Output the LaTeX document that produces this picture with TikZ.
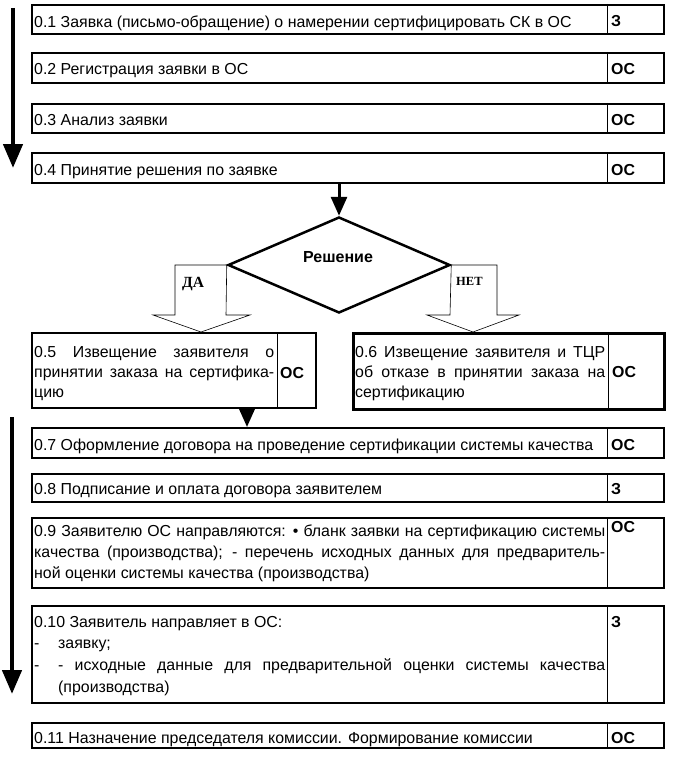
\documentclass[tikz,border=0pt]{standalone}
\usepackage{fontspec}
\setmainfont{Liberation Sans}
\newfontfamily\serifb{Liberation Serif}
\usetikzlibrary{arrows.meta,shapes.geometric}
\newcommand\msz{\fontsize{15.9}{20}\selectfont}
\begin{document}
\begin{tikzpicture}[x=1pt,y=-1pt,
  box/.style={draw, line width=2.4pt, inner sep=0, anchor=north west},
  divl/.style={line width=0.9pt},
  txt/.style={inner sep=0, anchor=base west, font=\msz},
  ptxt/.style={inner sep=0, anchor=north west, font=\msz, align=left},
  lbl/.style={inner sep=0, anchor=base west, font=\msz\bfseries},
  arr/.style={line width=3pt, -{Triangle[length=19pt,width=16pt]}},
  bigarr/.style={line width=4.5pt, -{Triangle[length=24pt,width=19pt]}},
  blk/.style={draw, line width=0.6pt, fill=white, line join=miter}]
\useasboundingbox (0,0) rectangle (675,765);
\coordinate (dv) at (607,0);
\coordinate (dv5) at (277,0);
\coordinate (dv6) at (608,0);
\coordinate (a57) at (247,0);
% rows 1-4
\node[box, minimum width=632pt, minimum height=29pt] (b1) at (31,4) {};
\draw[divl] (b1.north -| dv) -- (b1.south -| dv);
\node[txt] (t1) at (34,28) {0.1 Заявка (письмо-обращение) о намерении сертифицировать СК в ОС};
\node[lbl] (l1) at (611,27) {З};
\node[box, minimum width=632pt, minimum height=30pt] (b2) at (31,52) {};
\draw[divl] (b2.north -| dv) -- (b2.south -| dv);
\node[txt] (t2) at (34,75) {0.2 Регистрация заявки в ОС};
\node[lbl] (l2) at (611,75) {ОС};
\node[box, minimum width=632pt, minimum height=29pt] (b3) at (31,103) {};
\draw[divl] (b3.north -| dv) -- (b3.south -| dv);
\node[txt] (t3) at (34,125) {0.3 Анализ заявки};
\node[lbl] (l3) at (611,125) {ОС};
\node[box, minimum width=632pt, minimum height=30pt] (b4) at (31,152) {};
\draw[divl] (b4.north -| dv) -- (b4.south -| dv);
\node[txt] (t4) at (34,175) {0.4 Принятие решения по заявке};
\node[lbl] (l4) at (611,175) {ОС};
% left arrow 1
\coordinate (L1a) at (13,8);
\coordinate (L1b) at (13,168);
\draw[bigarr] (L1a) -- (L1b);
% decision
\node[draw, diamond, line width=2.5pt, minimum width=222pt, minimum height=96pt, inner sep=0] (dia) at (339,265) {};
\node[inner sep=0, anchor=base, font=\fontsize{16}{18}\selectfont\bfseries] (dtx) at (338,262) {Решение};
\draw[arr] (b4.south -| dia.north) -- (dia.north);
\draw[blk] (dia.west) -- (175,265) -- (175,315) -- (153,315) -- (201,332) -- (250,315) -- (226,315) -- cycle;
\draw[blk] (dia.east) -- (497,265) -- (497,315) -- (519,315) -- (473,332) -- (427,315) -- (450,315) -- cycle;
\node[inner sep=0, anchor=base west, font=\fontsize{15.5}{17}\selectfont\serifb\bfseries] (da) at (182,287) {ДА};
\node[inner sep=0, anchor=base west, font=\fontsize{12.5}{14}\selectfont\serifb\bfseries] (net) at (456,285) {НЕТ};
% boxes 0.5 and 0.6
\node[box, minimum width=284pt, minimum height=75pt] (b5) at (31,332) {};
\draw[divl] (b5.north -| dv5) -- (b5.south -| dv5);
\node[ptxt] (t5) at (34,345) {\rule{0pt}{12pt}\makebox[240pt][s]{0.5 Извещение заявителя о}\\\makebox[240pt][s]{принятии заказа на сертифика-}\\цию};
\node[lbl] (l5) at (280,378) {ОС};
\node[box, line width=2.8pt, minimum width=311pt, minimum height=76pt] (b6) at (352,332) {};
\draw[divl] (b6.north -| dv6) -- (b6.south -| dv6);
\node[ptxt] (t6) at (355,345) {\rule{0pt}{12pt}\makebox[250pt][s]{0.6 Извещение заявителя и ТЦР}\\\makebox[250pt][s]{об отказе в принятии заказа на}\\сертификацию};
\node[lbl] (l6) at (612,377) {ОС};
% 0.7
\node[box, minimum width=632pt, minimum height=30pt] (b7) at (31,427) {};
\draw[divl] (b7.north -| dv) -- (b7.south -| dv);
\node[txt] (t7) at (34,450) {0.7 Оформление договора на проведение сертификации системы качества};
\node[lbl] (l7) at (611,450) {ОС};
\draw[arr] (b5.south -| a57) -- (b7.north -| a57);
% 0.8
\node[box, minimum width=632pt, minimum height=28pt] (b8) at (31,473) {};
\draw[divl] (b8.north -| dv) -- (b8.south -| dv);
\node[txt] (t8) at (34,494) {0.8 Подписание и оплата договора заявителем};
\node[lbl] (l8) at (611,494) {З};
% 0.9
\node[box, minimum width=632pt, minimum height=70pt] (b9) at (31,517) {};
\draw[divl] (b9.north -| dv) -- (b9.south -| dv);
\node[ptxt, font=\fontsize{15.9}{21}\selectfont] (t9) at (34,524) {\rule{0pt}{12pt}\makebox[571pt][s]{0.9 Заявителю ОС направляются: • бланк заявки на сертификацию системы}\\\makebox[571pt][s]{качества (производства); - перечень исходных данных для предваритель-}\\ной оценки системы качества (производства)};
\node[lbl] (l9) at (611,532) {ОС};
% 0.10
\node[box, minimum width=632pt, minimum height=97pt] (b10) at (31,605) {};
\draw[divl] (b10.north -| dv) -- (b10.south -| dv);
\node[ptxt, font=\fontsize{15.9}{21.7}\selectfont] (t10) at (34,615) {\rule{0pt}{12pt}0.10 Заявитель направляет в ОС:\\\makebox[24pt][l]{-}заявку;\\\makebox[24pt][l]{-}\makebox[547pt][s]{- исходные данные для предварительной оценки системы качества}\\\hspace*{24pt}(производства)};
\node[lbl] (l10) at (611,627) {З};
% 0.11
\node[box, line width=1.8pt, minimum width=632pt, minimum height=25pt] (b11) at (31,722) {};
\draw[divl] (b11.north -| dv) -- (b11.south -| dv);
\node[txt] (t11) at (34,743) {0.11 Назначение председателя комиссии. Формирование комиссии};
\node[lbl] (l11) at (611,743) {ОС};
% left arrow 2
\coordinate (L2a) at (12,417);
\coordinate (L2b) at (12,694);
\draw[bigarr] (L2a) -- (L2b);
\end{tikzpicture}
\end{document}
